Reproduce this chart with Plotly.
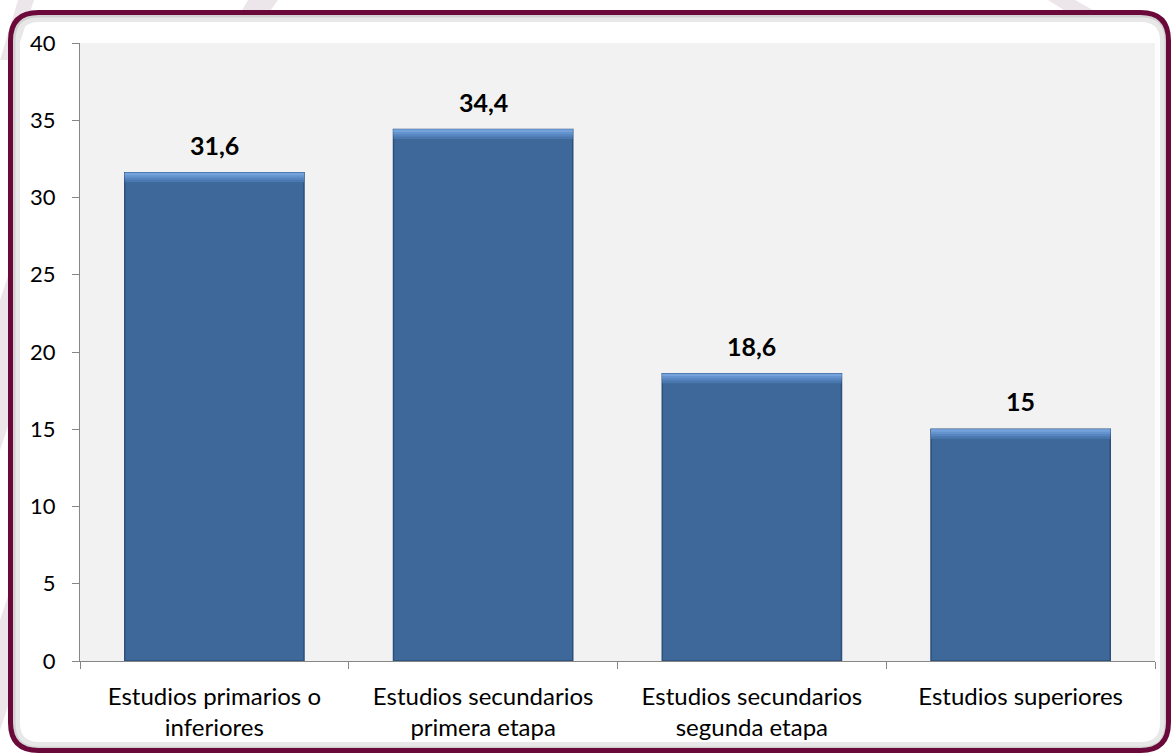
import plotly.graph_objects as go

categories = ["Estudios primarios o<br>inferiores", "Estudios secundarios<br>primera etapa",
              "Estudios secundarios<br>segunda etapa", "Estudios superiores"]
values = [31.6, 34.4, 18.6, 15]
y_ticks = [0, 5, 10, 15, 20, 25, 30, 35, 40]

W, H = 1173, 755
L, R, T, B = 80, 18, 43, 94
PW, PH = W - L - R, H - T - B


def xp(px):
    return (px - L) / PW


def yp(py):
    return (H - B - py) / PH


FONT = "Lato"
fig = go.Figure()
bw = 0.667
fig.add_trace(go.Bar(x=categories, y=values, width=bw, marker=dict(color="#3D6899", line=dict(color="#2D4F7C", width=1.5)),
                     hoverinfo="skip"))
for frac, col in [(0.62, "#4A77AE"), (0.45, "#5685C0"), (0.3, "#6593CE"), (0.16, "#75A2DA")]:
    fig.add_trace(go.Bar(x=categories, y=[frac] * len(values), base=[v - frac for v in values], width=bw,
                         marker=dict(color=col, line=dict(width=0)), hoverinfo="skip"))

for c, v in zip(categories, values):
    fig.add_annotation(x=c, y=v, text="<b>%s</b>" % (("%g" % v).replace(".", ",")), showarrow=False,
                       yanchor="middle", yshift=28, font=dict(family=FONT, size=25, color="black"))


def rrect(x0, y0, x1, y1, r):
    return ("M %f,%f L %f,%f Q %f,%f %f,%f L %f,%f Q %f,%f %f,%f L %f,%f Q %f,%f %f,%f L %f,%f Q %f,%f %f,%f Z" % (
        xp(x0 + r), yp(y0), xp(x1 - r), yp(y0), xp(x1), yp(y0), xp(x1), yp(y0 + r),
        xp(x1), yp(y1 - r), xp(x1), yp(y1), xp(x1 - r), yp(y1),
        xp(x0 + r), yp(y1), xp(x0), yp(y1), xp(x0), yp(y1 - r),
        xp(x0), yp(y0 + r), xp(x0), yp(y0), xp(x0 + r), yp(y0)))


shapes = []
# faint watermark stripes
for pts in [[(18, 0), (34, 0), (14, 60), (0, 60)], [(248, 0), (278, 0), (268, 14), (240, 14)],
            [(1048, 0), (1075, 0), (1100, 14), (1070, 14)], [(0, 300), (10, 270), (10, 420), (0, 450)],
            [(0, 620), (10, 590), (10, 700), (0, 730)]]:
    path = "M " + " L ".join("%f,%f" % (xp(a), yp(b)) for a, b in pts) + " Z"
    shapes.append(dict(type="path", xref="paper", yref="paper", path=path, fillcolor="#ECE6EA",
                       line=dict(width=0), layer="below"))
# inner shadow
shapes.append(dict(type="path", xref="paper", yref="paper", path=rrect(17, 19, 1163, 745, 22),
                   line=dict(color="#E8E8E8", width=6), layer="below"))
shapes.append(dict(type="path", xref="paper", yref="paper", path=rrect(14, 16, 1166, 748, 24),
                   line=dict(color="#D2D2D2", width=3), layer="below"))
# border
shapes.append(dict(type="path", xref="paper", yref="paper", path=rrect(10.5, 12.5, 1168.5, 750.5, 28),
                   line=dict(color="#6B0A3A", width=5), layer="above"))

fig.update_layout(
    width=W, height=H, margin=dict(l=L, r=R, t=T, b=B),
    paper_bgcolor="white", plot_bgcolor="#F2F2F2",
    barmode="overlay", showlegend=False, shapes=shapes,
    font=dict(family=FONT, size=20, color="black"),
    xaxis=dict(showline=True, linecolor="#868686", linewidth=1, ticks="outside", ticklen=7, tickcolor="#868686",
               tickson="boundaries", tickfont=dict(family=FONT, size=24, color="black"), showgrid=False,
               fixedrange=True, ticklabelstandoff=14),
    yaxis=dict(range=[0, 40], tickvals=y_ticks, showline=True, linecolor="#868686", linewidth=1, ticks="outside",
               ticklen=7, tickcolor="#868686", showgrid=False, zeroline=False,
               tickfont=dict(family=FONT, size=22, color="black"), ticklabelstandoff=12),
)
fig.write_html("out.html", config={"displayModeBar": False}, post_script="document.body.style.margin='0';")
